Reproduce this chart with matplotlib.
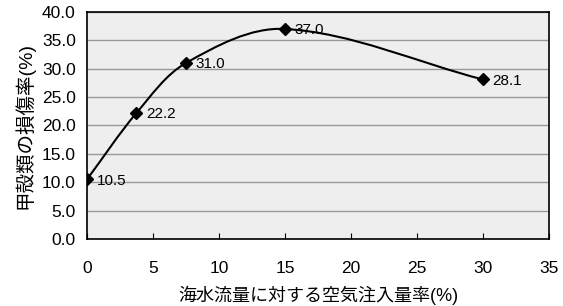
import matplotlib.pyplot as plt
import numpy as np
from matplotlib.path import Path
from matplotlib.patches import PathPatch

plt.rcParams['font.family'] = ['Liberation Sans', 'Noto Sans CJK JP']

air_rate = [0, 3.75, 7.5, 15, 30]
damage = [10.5, 22.2, 31.0, 37.0, 28.1]
labels = ['10.5', '22.2', '31.0', '37.0', '28.1']

fig = plt.figure(figsize=(5.63, 3.06), dpi=100)
ax = fig.add_axes([0.1545, 0.219, 0.8205, 0.742])
ax.set_facecolor('#eeeeee')
ax.set_xlim(0, 35)
ax.set_ylim(0, 40)

# smooth line (bezier, tangents computed in pixel-like space)
sx, sy = 462 / 35, 227 / 40
P = np.column_stack([np.array(air_rate) * sx, np.array(damage) * sy])
n = len(P)
verts = [tuple(P[0])]
codes = [Path.MOVETO]
def tangent(i):
    a = P[max(i - 1, 0)]
    b = P[min(i + 1, n - 1)]
    d = b - a
    return d / np.linalg.norm(d)
k = 0.33
for i in range(n - 1):
    L = np.linalg.norm(P[i + 1] - P[i])
    c1 = P[i] + tangent(i) * L * k
    c2 = P[i + 1] - tangent(i + 1) * L * k
    verts += [tuple(c1), tuple(c2), tuple(P[i + 1])]
    codes += [Path.CURVE4] * 3
verts = [(vx / sx, vy / sy) for vx, vy in verts]
ax.add_patch(PathPatch(Path(verts, codes), fill=False, lw=1.5, color='black', zorder=3))

ax.plot(air_rate, damage, ls='none', marker='D', ms=6.5, color='black', zorder=4)
for xv, yv, t in zip(air_rate, damage, labels):
    ax.annotate(t, (xv, yv), xytext=(7, -1), textcoords='offset points',
                va='center', ha='left', fontsize=11)

ax.set_xticks(range(0, 36, 5))
ax.set_yticks(np.arange(0, 40.1, 5))
ax.set_yticklabels([f'{v:.1f}' for v in np.arange(0, 40.1, 5)])
ax.yaxis.grid(True, color='#999999', lw=1)
ax.set_axisbelow(True)
ax.tick_params(axis='x', direction='in', length=4, labelsize=12.5, pad=16)
ax.tick_params(axis='y', length=0, labelsize=12.5, pad=8)
for s in ax.spines.values():
    s.set_linewidth(1.2)

ax.set_xlabel('海水流量に対する空気注入量率(%)', fontsize=13, labelpad=7)
ax.set_ylabel('甲殻類の損傷率(%)', fontsize=14, labelpad=5)

fig.savefig('out.png', dpi=100)
